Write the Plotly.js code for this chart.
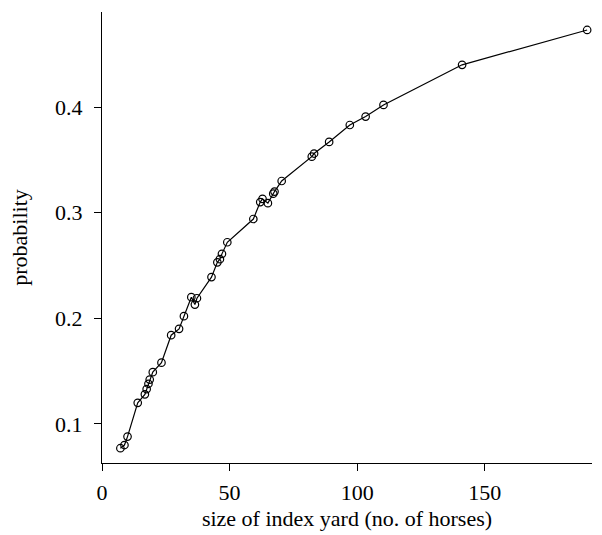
<!DOCTYPE html>
<html>
<head>
<meta charset="utf-8">
<script src="https://cdn.plot.ly/plotly-3.0.1.min.js"></script>
<style>html,body{margin:0;padding:0;background:#fff;}#chart{width:602px;height:535px;}</style>
</head>
<body>
<div id="chart"></div>
<script>
var yardSize = [7.2, 8.8, 10.0, 14.0, 16.8, 17.5, 18.2, 18.7, 19.9, 23.3, 27.1, 30.2, 32.1, 35.0, 36.4, 37.2, 42.9, 45.2, 46.2, 47.0, 49.1, 59.3, 62.0, 62.9, 65.0, 67.1, 67.6, 70.4, 82.2, 83.1, 89.0, 97.1, 103.3, 110.3, 141.1, 190.1];
var probability = [0.077, 0.080, 0.088, 0.120, 0.128, 0.133, 0.138, 0.142, 0.149, 0.158, 0.184, 0.190, 0.202, 0.220, 0.213, 0.219, 0.239, 0.253, 0.256, 0.261, 0.272, 0.294, 0.310, 0.313, 0.309, 0.318, 0.320, 0.330, 0.353, 0.356, 0.367, 0.383, 0.391, 0.402, 0.440, 0.473];
var xTicks = [0, 50, 100, 150];
var yTicks = [0.1, 0.2, 0.3, 0.4];
var xTickText = ['0', '50', '100', '150'];
var yTickText = ['0.1', '0.2', '0.3', '0.4'];

var font = 'Liberation Serif, Times New Roman, serif';
var trace = {
  x: yardSize, y: probability, type: 'scatter', mode: 'lines+markers',
  line: {color: '#000', width: 1.2},
  marker: {symbol: 'circle-open', size: 7.5, color: '#000', line: {width: 1.2, color: '#000'}},
  hoverinfo: 'none'
};
var layout = {
  width: 602, height: 535,
  margin: {l: 102, r: 10, t: 12, b: 72, pad: 0},
  paper_bgcolor: '#fff', plot_bgcolor: '#fff',
  showlegend: false,
  font: {family: font, color: '#000', size: 22},
  xaxis: {
    range: [0, 192], tickvals: xTicks, ticktext: xTickText,
    showline: true, linecolor: '#000', linewidth: 1.2, mirror: false,
    ticks: 'outside', ticklen: 7, tickwidth: 1, tickcolor: '#000',
    showgrid: false, zeroline: false, ticklabelstandoff: 2,
    tickfont: {family: font, size: 22, color: '#000'},
    title: {text: 'size of index yard (no. of horses)', font: {family: font, size: 22, color: '#000'}, standoff: 7}
  },
  yaxis: {
    range: [0.063, 0.490], tickvals: yTicks, ticktext: yTickText,
    showline: true, linecolor: '#000', linewidth: 1.2, mirror: false,
    ticks: 'outside', ticklen: 7, tickwidth: 1, tickcolor: '#000',
    showgrid: false, zeroline: false, ticklabelstandoff: 7,
    tickfont: {family: font, size: 22, color: '#000'},
    title: {text: 'probability', font: {family: font, size: 22, color: '#000'}, standoff: 21}
  }
};
Plotly.newPlot('chart', [trace], layout, {staticPlot: true, displayModeBar: false});
</script>
</body>
</html>
